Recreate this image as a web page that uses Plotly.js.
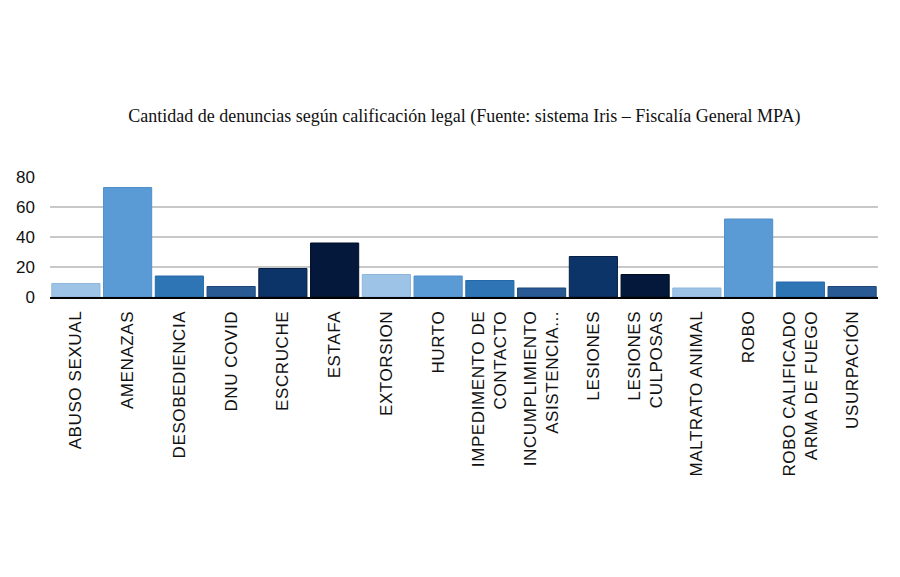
<!DOCTYPE html>
<html>
<head>
<meta charset="utf-8">
<script src="https://cdn.plot.ly/plotly-3.0.1.min.js"></script>
<style>
  html, body { margin: 0; padding: 0; background: #ffffff; }
  #chart { width: 900px; height: 577px; }
  /* slightly spaced category labels */
  #chart .xtick text { letter-spacing: 0.6px; }
</style>
</head>
<body>
<div id="chart"></div>
<script>
// Legal classifications (tick labels, with line breaks where they wrap)
const categorias = [
  "ABUSO SEXUAL", "AMENAZAS", "DESOBEDIENCIA", "DNU COVID", "ESCRUCHE",
  "ESTAFA", "EXTORSION", "HURTO", "IMPEDIMENTO DE<br>CONTACTO",
  "INCUMPLIMIENTO<br>ASISTENCIA...", "LESIONES", "LESIONES<br>CULPOSAS",
  "MALTRATO ANIMAL", "ROBO", "ROBO CALIFICADO<br>ARMA DE FUEGO", "USURPACIÓN"
];

// Number of complaints per classification
const denuncias = [9, 73, 14, 7, 19, 36, 15, 14, 11, 6, 27, 15, 6, 52, 10, 7];

// Blue palette cycling over the bars
const paleta = ["#9dc3e6", "#5b9bd5", "#2e75b6", "#2a5a94", "#0c3468", "#03183a"];
const bordes = ["#8fb6dc", "#4f8fcb", "#2669a8", "#1c4578", "#061f45", "#010d22"];

const colores = categorias.map((_, i) => paleta[i % paleta.length]);
const lineas = categorias.map((_, i) => bordes[i % bordes.length]);

const trace = {
  type: "bar",
  x: categorias,
  y: denuncias,
  marker: { color: colores, line: { color: lineas, width: 1 } },
  hoverinfo: "x+y"
};

const layout = {
  width: 900,
  height: 577,
  margin: { l: 50, r: 22, t: 177, b: 280 },
  paper_bgcolor: "#ffffff",
  plot_bgcolor: "#ffffff",
  bargap: 0.07,
  showlegend: false,
  title: {
    text: "Cantidad de denuncias según calificación legal (Fuente: sistema Iris – Fiscalía General MPA)",
    font: { family: "Liberation Serif, Times New Roman, serif", size: 18, color: "#111111" },
    x: 0.516,
    xanchor: "center",
    y: 0.8,
    yanchor: "middle"
  },
  xaxis: {
    type: "category",
    tickangle: -90,
    tickfont: { family: "Liberation Sans, Arial, sans-serif", size: 17, color: "#111111" },
    showgrid: false,
    showline: true,
    linecolor: "#000000",
    linewidth: 2,
    ticks: "",
    ticklen: 0,
    ticklabelstandoff: 5
  },
  yaxis: {
    range: [0, 80],
    tickvals: [0, 20, 40, 60, 80],
    tickfont: { family: "Liberation Sans, Arial, sans-serif", size: 17, color: "#111111" },
    showgrid: true,
    gridcolor: "#c8c8c8",
    gridwidth: 2,
    zeroline: false,
    showline: false,
    ticks: "",
    ticklabelstandoff: 14
  }
};

Plotly.newPlot("chart", [trace], layout, { displayModeBar: false, staticPlot: true });
</script>
</body>
</html>
